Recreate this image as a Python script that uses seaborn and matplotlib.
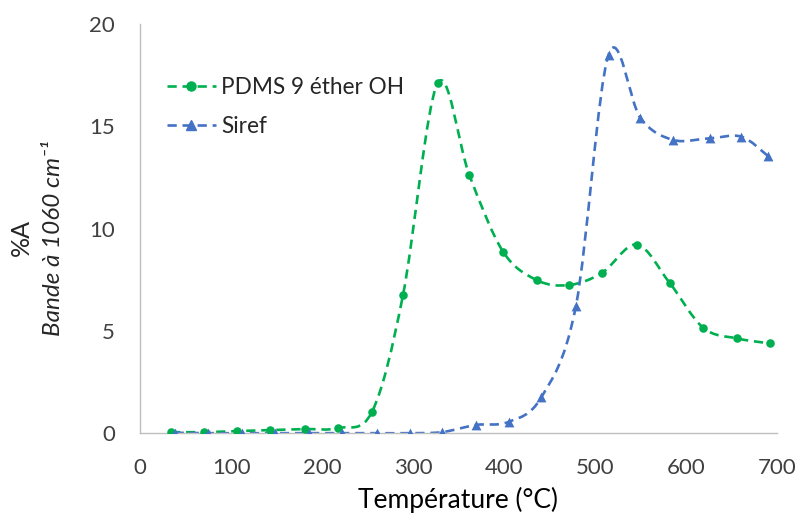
import numpy as np
import pandas as pd
import seaborn as sns
import matplotlib.pyplot as plt
from matplotlib.path import Path
from matplotlib.patches import PathPatch
from matplotlib.lines import Line2D

# valeurs
temp_pdms = [34, 70, 106, 143, 181, 218, 255, 289, 327, 362, 399, 436, 472, 508, 546, 582, 619, 656, 692]
val_pdms = [0.05, 0.05, 0.1, 0.15, 0.2, 0.25, 1.05, 6.75, 17.1, 12.6, 8.87, 7.48, 7.24, 7.84, 9.22, 7.35, 5.15, 4.63, 4.39]
temp_siref = [38, 75, 112, 148, 186, 222, 260, 297, 332, 369, 405, 441, 479, 515, 550, 586, 626, 661, 690]
val_siref = [0.02, 0.0, 0.0, 0.0, 0.0, 0.0, 0.0, 0.0, 0.05, 0.4, 0.55, 1.75, 6.2, 18.5, 15.4, 14.33, 14.41, 14.49, 13.55]

x_ticks = [0, 100, 200, 300, 400, 500, 600, 700]
y_ticks = [0, 5, 10, 15, 20]

green = '#00B050'
blue = '#4472C4'
grey = '#BFBFBF'

sns.set_theme(style="white")
plt.rcParams['font.family'] = ['Lato', 'DejaVu Sans']


def smooth_path(x, y):
    # courbe lissée type Excel (bezier passant par les points)
    p = np.column_stack([x, y]).astype(float)
    n = len(p)
    verts = [p[0]]
    codes = [Path.MOVETO]
    for i in range(n - 1):
        p0 = p[i - 1] if i > 0 else p[i]
        p3 = p[i + 2] if i + 2 < n else p[i + 1]
        verts += [p[i] + (p[i + 1] - p0) / 6, p[i + 1] - (p3 - p[i]) / 6, p[i + 1]]
        codes += [Path.CURVE4] * 3
    return Path(verts, codes)


df_pdms = pd.DataFrame({'T': temp_pdms, 'A': val_pdms})
df_siref = pd.DataFrame({'T': temp_siref, 'A': val_siref})

fig, ax = plt.subplots(figsize=(7.96, 5.2), dpi=100)
fig.subplots_adjust(left=0.176, right=0.976, bottom=0.167, top=0.954)

dash = (0, (3.5, 2.2))
ax.add_patch(PathPatch(smooth_path(temp_pdms, val_pdms), fill=False, edgecolor=green, lw=1.9, ls=dash, zorder=2))
ax.add_patch(PathPatch(smooth_path(temp_siref, val_siref), fill=False, edgecolor=blue, lw=1.9, ls=dash, zorder=2))

sns.scatterplot(data=df_pdms, x='T', y='A', color=green, marker='o', s=38, edgecolor=green, linewidth=0, ax=ax, zorder=3)
sns.scatterplot(data=df_siref, x='T', y='A', color=blue, marker='^', s=50, edgecolor=blue, linewidth=0, ax=ax, zorder=3)

ax.set_xlim(0, 700)
ax.set_ylim(0, 20)
ax.set_xticks(x_ticks)
ax.set_yticks(y_ticks)
ax.tick_params(axis='both', length=7, width=1, color=grey, labelsize=16, labelcolor='#404040', direction='out')
ax.tick_params(axis='y', pad=11)
ax.tick_params(axis='x', pad=11)
for s in ['top', 'right']:
    ax.spines[s].set_visible(False)
for s in ['left', 'bottom']:
    ax.spines[s].set_color(grey)
    ax.spines[s].set_linewidth(1)

ax.set_xlabel('Température (°C)', fontsize=19, color='black', labelpad=6)
ax.set_ylabel('')
fig.text(0.027, 0.544, '%A', rotation=90, fontsize=18, ha='center', va='center')
fig.text(0.067, 0.542, 'Bande à 1060 cm⁻¹', rotation=90, fontsize=17.5, style='italic',
         ha='center', va='center')

handles = [
    Line2D([0], [0], color=green, lw=1.9, ls=dash, marker='o', markersize=6.5),
    Line2D([0], [0], color=blue, lw=1.9, ls=dash, marker='^', markersize=7),
]
ax.legend(handles, ['PDMS 9 éther OH', 'Siref'], loc='upper left', bbox_to_anchor=(0.01, 0.92),
          frameon=False, fontsize=16.3, handlelength=2.15, handletextpad=0.25, labelspacing=0.8)

plt.savefig('out.png', dpi=100)
